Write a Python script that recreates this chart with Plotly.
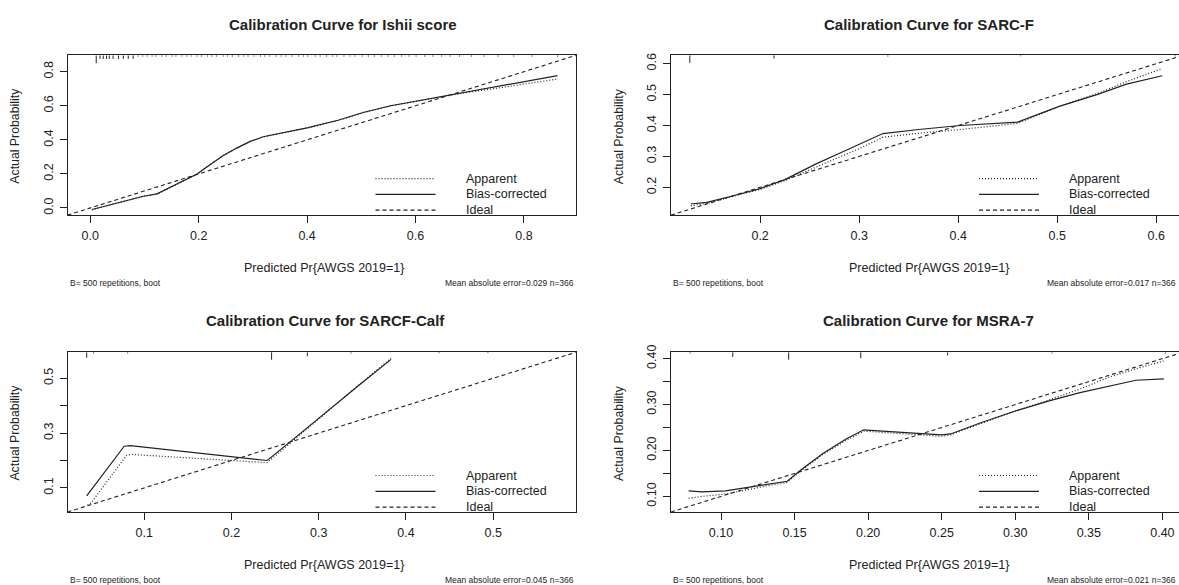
import plotly.graph_objects as go

W, H = 1179, 585

# ---------------- data ----------------
titles = ["Calibration Curve for Ishii score", "Calibration Curve for SARC-F",
          "Calibration Curve for SARCF-Calf", "Calibration Curve for MSRA-7"]
mae_values = ["0.029", "0.017", "0.045", "0.021"]
n_obs = 366
n_boot = 500

# Panel 1: Ishii score
ishii_x = [0.003, 0.037, 0.068, 0.098, 0.123, 0.148, 0.172, 0.197, 0.222, 0.246, 0.271, 0.295,
           0.319, 0.360, 0.402, 0.457, 0.505, 0.554, 0.603, 0.651, 0.693, 0.748, 0.803, 0.862]
ishii_bias = [-0.009, 0.020, 0.045, 0.069, 0.083, 0.121, 0.160, 0.199, 0.257, 0.309, 0.353, 0.391,
              0.418, 0.445, 0.472, 0.515, 0.562, 0.600, 0.628, 0.655, 0.682, 0.711, 0.744, 0.777]
ishii_app = [-0.011, 0.019, 0.044, 0.068, 0.082, 0.120, 0.159, 0.198, 0.256, 0.308, 0.352, 0.390,
             0.417, 0.444, 0.471, 0.514, 0.561, 0.599, 0.626, 0.652, 0.677, 0.702, 0.730, 0.757]
ishii_rug = [0.011, 0.018, 0.024, 0.030, 0.035, 0.042, 0.052, 0.061, 0.070, 0.079,
             0.088, 0.097, 0.105, 0.114, 0.121, 0.132, 0.140, 0.151, 0.158, 0.169, 0.178, 0.186,
             0.197, 0.205, 0.216, 0.224, 0.233, 0.245, 0.253, 0.262, 0.274, 0.283, 0.291, 0.302,
             0.314, 0.322, 0.331, 0.343, 0.352, 0.361, 0.372, 0.384, 0.393, 0.401, 0.415, 0.424,
             0.436, 0.447, 0.455, 0.468, 0.479, 0.488, 0.502, 0.513, 0.524, 0.537, 0.549, 0.561,
             0.574, 0.588, 0.601, 0.617, 0.632, 0.648, 0.664, 0.681, 0.703, 0.726, 0.752, 0.781,
             0.815, 0.862]
ishii_rug_rel = [1.0] + [0.45] * 9 + [0.15] * 62

# Panel 2: SARC-F
sarcf_x = [0.130, 0.146, 0.172, 0.200, 0.225, 0.256, 0.278, 0.300, 0.324, 0.360, 0.402, 0.460,
           0.502, 0.540, 0.570, 0.606]
sarcf_bias = [0.146, 0.151, 0.172, 0.196, 0.225, 0.275, 0.307, 0.339, 0.374, 0.387, 0.400, 0.411,
              0.462, 0.500, 0.534, 0.561]
sarcf_app = [0.140, 0.148, 0.170, 0.193, 0.222, 0.266, 0.295, 0.325, 0.362, 0.375, 0.387, 0.407,
             0.462, 0.503, 0.542, 0.584]
sarcf_rug = [0.129, 0.214, 0.329, 0.463, 0.619]
sarcf_rug_rel = [0.95, 0.4, 0.15, 0.12, 0.12]

# Panel 3: SARCF-Calf
calf_x_bias = [0.034, 0.077, 0.084, 0.241, 0.271, 0.301, 0.344, 0.383]
calf_bias = [0.071, 0.252, 0.254, 0.200, 0.278, 0.357, 0.469, 0.569]
calf_x_app = [0.035, 0.039, 0.080, 0.086, 0.241, 0.300, 0.344, 0.383]
calf_app = [0.037, 0.045, 0.220, 0.222, 0.192, 0.352, 0.470, 0.573]
calf_rug = [0.034, 0.042, 0.081, 0.246, 0.287, 0.337, 0.438, 0.494]
calf_rug_rel = [0.7, 0.15, 0.15, 0.95, 0.5, 0.15, 0.12, 0.12]

# Panel 4: MSRA-7
msra_x = [0.078, 0.087, 0.103, 0.118, 0.133, 0.145, 0.154, 0.169, 0.185, 0.197, 0.215, 0.236,
          0.250, 0.256, 0.277, 0.300, 0.323, 0.344, 0.364, 0.382, 0.401]
msra_bias = [0.112, 0.110, 0.112, 0.119, 0.126, 0.133, 0.157, 0.193, 0.225, 0.245, 0.241, 0.236,
             0.234, 0.236, 0.261, 0.286, 0.308, 0.326, 0.341, 0.353, 0.356]
msra_app = [0.096, 0.100, 0.105, 0.115, 0.124, 0.131, 0.155, 0.191, 0.222, 0.242, 0.239, 0.234,
            0.231, 0.234, 0.259, 0.286, 0.310, 0.334, 0.360, 0.378, 0.395]
msra_rug = [0.079, 0.108, 0.146, 0.195, 0.254, 0.325, 0.402]
msra_rug_rel = [0.15, 0.6, 0.95, 0.75, 0.4, 0.15, 0.15]

# axis limits (same on x and y in each panel, as in rms::calibrate plots)
limits = [(-0.042, 0.896), (0.110, 0.627), (0.012, 0.595), (0.066, 0.414)]
tick_vals = [[0.0, 0.2, 0.4, 0.6, 0.8],
             [0.2, 0.3, 0.4, 0.5, 0.6],
             [0.1, 0.2, 0.3, 0.4, 0.5],
             [0.10, 0.15, 0.20, 0.25, 0.30, 0.35, 0.40]]
x_tick_text = [["0.0", "0.2", "0.4", "0.6", "0.8"],
               ["0.2", "0.3", "0.4", "0.5", "0.6"],
               ["0.1", "0.2", "0.3", "0.4", "0.5"],
               ["0.10", "0.15", "0.20", "0.25", "0.30", "0.35", "0.40"]]
y_tick_text = [["0.0", "0.2", "0.4", "0.6", "0.8"],
               ["0.2", "0.3", "0.4", "0.5", "0.6"],
               ["0.1", "", "0.3", "", "0.5"],
               ["0.10", "", "0.20", "", "0.30", "", "0.40"]]

panels = [
    dict(xb=ishii_x, yb=ishii_bias, xa=ishii_x, ya=ishii_app, rug=ishii_rug, rel=ishii_rug_rel),
    dict(xb=sarcf_x, yb=sarcf_bias, xa=sarcf_x, ya=sarcf_app, rug=sarcf_rug, rel=sarcf_rug_rel),
    dict(xb=calf_x_bias, yb=calf_bias, xa=calf_x_app, ya=calf_app, rug=calf_rug, rel=calf_rug_rel),
    dict(xb=msra_x, yb=msra_bias, xa=msra_x, ya=msra_app, rug=msra_rug, rel=msra_rug_rel),
]

# ---------------- layout geometry (pixels) ----------------
# plot boxes: left, right (true right may lie beyond the picture), top, bottom
boxes = [(67.5, 576, 48, 210), (671, 1183, 48, 210), (67.5, 576, 349, 511), (671, 1183, 349, 511)]
title_pos = [(343, 17), (929, 17), (325, 317), (928, 317)]

FONT = "Liberation Sans, Arial, Helvetica, sans-serif"
INK = "#222222"


def px(x):
    return x / W


def py(y):
    return 1 - y / H


fig = go.Figure()
annotations = []
shapes = []

for i, (p, lim, box) in enumerate(zip(panels, limits, boxes)):
    n = i + 1
    xa_name = "x" if n == 1 else f"x{n}"
    ya_name = "y" if n == 1 else f"y{n}"
    left, right, top, bottom = box
    lo, hi = lim
    # clip the box at the picture edge, keeping the data scale
    vis_right = min(right, W)
    clipped = right > W
    x_hi = lo + (hi - lo) * (vis_right - left) / (right - left)

    # apparent (dotted)
    fig.add_trace(go.Scatter(x=p["xa"], y=p["ya"], mode="lines", xaxis=xa_name, yaxis=ya_name,
                             line=dict(color=INK, width=1.2, dash="1px,2px"), showlegend=False,
                             hoverinfo="skip"))
    # bias-corrected (solid)
    fig.add_trace(go.Scatter(x=p["xb"], y=p["yb"], mode="lines", xaxis=xa_name, yaxis=ya_name,
                             line=dict(color=INK, width=1.2), showlegend=False, hoverinfo="skip"))
    # ideal (dashed)
    fig.add_trace(go.Scatter(x=[lo, hi], y=[lo, hi], mode="lines", xaxis=xa_name, yaxis=ya_name,
                             line=dict(color=INK, width=1.1, dash="4px,3px"), showlegend=False,
                             hoverinfo="skip"))
    # rug along the top
    unit = (hi - lo) / (bottom - top)  # data units per pixel
    rx, ry = [], []
    for v, r in zip(p["rug"], p["rel"]):
        rx += [v, v, None]
        ry += [hi, hi - r * 8 * unit, None]
    fig.add_trace(go.Scatter(x=rx, y=ry, mode="lines", xaxis=xa_name, yaxis=ya_name,
                             line=dict(color=INK, width=1), showlegend=False, hoverinfo="skip"))

    axis_common = dict(showline=True, linecolor=INK, linewidth=1, ticks="outside",
                       ticklen=7, tickwidth=1, tickcolor=INK, showgrid=False, zeroline=False,
                       tickfont=dict(family=FONT, size=12.5, color=INK), tickmode="array",
                       tickvals=tick_vals[i])
    fig.layout[f"xaxis{n if n > 1 else ''}"] = dict(
        axis_common, mirror=True, domain=[px(left), px(vis_right)], range=[lo, x_hi],
        anchor=ya_name, ticktext=x_tick_text[i], ticklabelstandoff=2)
    fig.layout[f"yaxis{n if n > 1 else ''}"] = dict(
        axis_common, mirror=not clipped, domain=[py(bottom), py(top)], range=[lo, hi],
        anchor=xa_name, ticktext=y_tick_text[i], tickangle=-90, ticklabelstandoff=2)

    # title
    tx, ty = title_pos[i]
    annotations.append(dict(text=f"<b>{titles[i]}</b>", x=px(tx), y=py(ty), xref="paper",
                            yref="paper", showarrow=False, xanchor="center", yanchor="middle",
                            font=dict(family=FONT, size=15, color=INK)))
    # axis titles
    annotations.append(dict(text="Predicted Pr{AWGS 2019=1}", x=px((left + right) / 2 + 2),
                            y=py(bottom + 54), xref="paper", yref="paper", showarrow=False,
                            xanchor="center", yanchor="middle",
                            font=dict(family=FONT, size=12.5, color=INK)))
    annotations.append(dict(text="Actual Probability", x=px(left - 52), y=py((top + bottom) / 2 + 1),
                            xref="paper", yref="paper", showarrow=False, textangle=-90,
                            xanchor="center", yanchor="middle",
                            font=dict(family=FONT, size=12.3, color=INK)))
    # footnotes
    annotations.append(dict(text=f"B= {n_boot} repetitions, boot", x=px(left), y=py(bottom + 69),
                            xref="paper", yref="paper", showarrow=False, xanchor="left",
                            yanchor="middle", font=dict(family=FONT, size=8.5, color=INK)))
    annotations.append(dict(text=f"Mean absolute error={mae_values[i]} n={n_obs}",
                            x=px(min(right, W - 1)), y=py(bottom + 69), xref="paper",
                            yref="paper", showarrow=False, xanchor="right", yanchor="middle",
                            font=dict(family=FONT, size=8.5, color=INK)))
    # legend (R style, inside the box)
    leg_items = [("Apparent", "1px,2px"), ("Bias-corrected", "solid"), ("Ideal", "4px,3px")]
    for k, (lab, dash) in enumerate(leg_items):
        yy = bottom - 37 + 16 * k
        shapes.append(dict(type="line", xref="paper", yref="paper",
                           x0=px(left + 308), x1=px(left + 368), y0=py(yy), y1=py(yy),
                           line=dict(color=INK, width=1.2, dash=dash)))
        annotations.append(dict(text=lab, x=px(left + 396), y=py(yy), xref="paper",
                                yref="paper", showarrow=False, xanchor="left", yanchor="middle",
                                font=dict(family=FONT, size=12.5, color=INK)))

fig.update_layout(width=W, height=H, margin=dict(l=0, r=0, t=0, b=0),
                  paper_bgcolor="white", plot_bgcolor="white",
                  annotations=annotations, shapes=shapes, showlegend=False)

fig.write_html("out.html", config={"displayModeBar": False},
               post_script="document.body.style.margin='0px';document.body.style.overflow='hidden';")
